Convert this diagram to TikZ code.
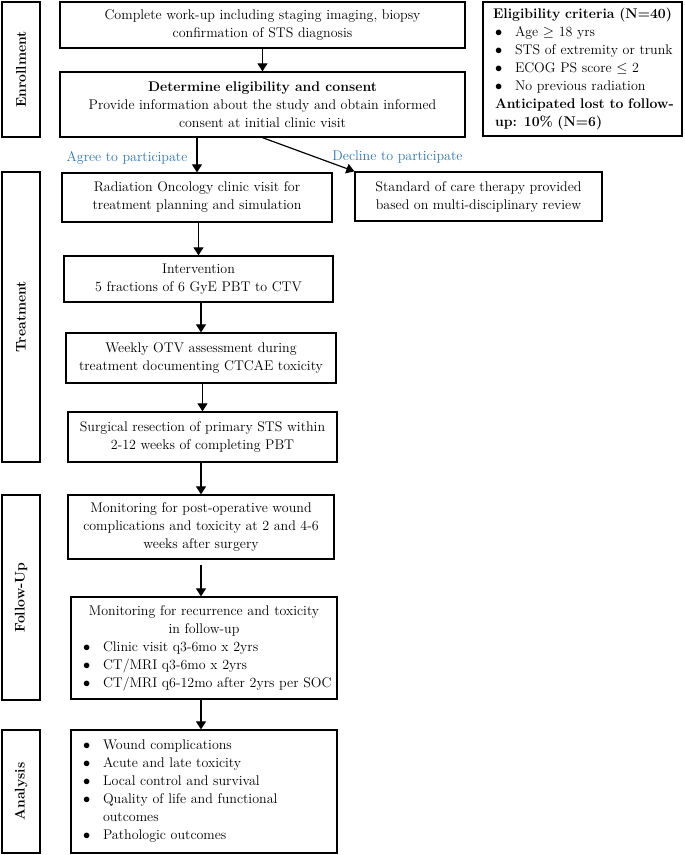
\documentclass[tikz,border=0pt]{standalone}
\usetikzlibrary{arrows.meta}
\setlength{\parindent}{0pt}
\definecolor{choiceblue}{HTML}{2E75B6}
\newcommand{\bitem}[1]{\hspace*{8pt}\makebox[20pt][l]{$\bullet$}\mbox{#1}}
\begin{document}
\begin{tikzpicture}[x=1pt,y=-1pt,
	font=\fontsize{14}{18}\selectfont,
	box/.style={draw,line width=1.3pt,align=center,inner sep=0pt},
	phase/.style={draw,line width=1.4pt,rotate=90,inner sep=0pt,
		font=\fontsize{14}{18}\selectfont\bfseries},
	choice/.style={text=choiceblue},
	flow/.style={-{Triangle[length=8pt,width=10pt]},line width=1.2pt}]
\useasboundingbox (0,0) rectangle (685,855);
% phases
\node[phase,minimum width=135pt,minimum height=38pt] (enroll) at (21,69.5) {Enrollment};
\node[phase,minimum width=290pt,minimum height=38pt] (treat) at (21,317) {Treatment};
\node[phase,minimum width=205pt,minimum height=38pt] (follow) at (21,597.5) {Follow-Up};
\node[phase,minimum width=123pt,minimum height=38pt] (analysis) at (21,791.5) {Analysis};
% enrollment
\node[box,minimum width=405pt,minimum height=46pt] (workup) at (262.5,25)
	{Complete work-up including staging imaging, biopsy\\confirmation of STS diagnosis};
\node[box,minimum width=405pt,minimum height=65pt] (consent) at (262.5,104.5)
	{\textbf{Determine eligibility and consent}\\Provide information about the study and obtain informed\\consent at initial clinic visit};
\node[box,minimum width=199pt,minimum height=134pt,text width=191pt,align=left] (criteria) at (582.5,69)
	{{\centering\textbf{Eligibility criteria (N=40)}\par}
	\bitem{Age $\geq$ 18 yrs}\\
	\bitem{STS of extremity or trunk}\\
	\bitem{ECOG PS score $\leq$ 2}\\
	\bitem{No previous radiation}\\
	\hspace*{8pt}\textbf{Anticipated lost to follow-}\\
	\hspace*{8pt}\textbf{up: 10\% (N=6)}};
% choices
\node[choice] (agree) at (127,158) {Agree to participate};
\node[choice] (decline) at (397.5,157) {Decline to participate};
% treatment
\node[box,minimum width=270pt,minimum height=49pt] (radonc) at (197,197.5)
	{Radiation Oncology clinic visit for\\treatment planning and simulation};
\node[box,minimum width=247pt,minimum height=49pt] (soc) at (478.5,196.5)
	{Standard of care therapy provided\\based on multi-disciplinary review};
\node[box,minimum width=269pt,minimum height=46pt] (interv) at (198.5,279)
	{Intervention\\5 fractions of 6 GyE PBT to CTV};
\node[box,minimum width=270pt,minimum height=50pt] (weekly) at (201,358)
	{Weekly OTV assessment during\\treatment documenting CTCAE toxicity};
\node[box,minimum width=269pt,minimum height=50pt] (surgery) at (202.5,437)
	{Surgical resection of primary STS within\\2-12 weeks of completing PBT};
% follow-up
\node[box,minimum width=266pt,minimum height=64pt] (postop) at (201,527)
	{Monitoring for post-operative wound\\complications and toxicity at 2 and 4-6\\weeks after surgery};
\node[box,minimum width=266pt,minimum height=102pt,text width=258pt,align=left] (recur) at (204,648)
	{{\centering Monitoring for recurrence and toxicity\\in follow-up\par}
	\bitem{Clinic visit q3-6mo x 2yrs}\\
	\bitem{CT/MRI q3-6mo x 2yrs}\\
	\bitem{CT/MRI q6-12mo after 2yrs per SOC}};
% analysis
\node[box,minimum width=266pt,minimum height=123pt,text width=258pt,align=left] (outcomes) at (204,791.5)
	{\bitem{Wound complications}\\
	\bitem{Acute and late toxicity}\\
	\bitem{Local control and survival}\\
	\bitem{Quality of life and functional}\\
	\hspace*{28pt}outcomes\\
	\bitem{Pathologic outcomes}};
% arrows
\draw[flow] (workup) -- (consent);
\draw[flow] (consent.south -| radonc.north) -- (radonc.north);
\draw[flow] (consent.south) -- (soc.north west);
\draw[flow] (radonc.south -| interv.north) -- (interv.north);
\draw[flow] (interv.south -| weekly.north) -- (weekly.north);
\draw[flow] (weekly.south -| surgery.north) -- (surgery.north);
\draw[flow] (surgery.south -| postop.north) -- (postop.north);
\draw[flow,shorten <=5pt] (postop.south) -- (postop.south |- recur.north);
\draw[flow] (recur.south -| postop.south) -- (postop.south |- outcomes.north);
\end{tikzpicture}
\end{document}
